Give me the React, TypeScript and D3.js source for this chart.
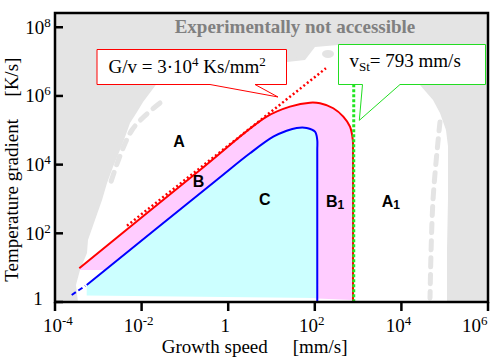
import React, { useEffect, useRef } from 'react';
import * as d3 from 'd3';

const W = 493;
const H = 361;
const SERIF = "'Liberation Serif', 'Times New Roman', serif";
const SANS = "'Liberation Sans', Arial, sans-serif";

// axes
const xDomain: [number, number] = [1e-4, 1e6];
const yDomain: [number, number] = [1, 2.6e8];
const xTicks = [1e-4, 1e-2, 1, 1e2, 1e4, 1e6];
const yTicks = [1, 1e2, 1e4, 1e6, 1e8];
const xTickExp = ['-4', '-2', '', '2', '4', '6'];
const yTickExp = ['', '2', '4', '6', '8'];

// curves [growth speed mm/s, temperature gradient K/s]
const redCurve: [number, number][] = [
  [3.64e-4, 9.6], [0.2234, 6980], [7.74, 2.49e5], [26.7, 4.87e5], [77.4, 6.37e5],
  [132, 6.11e5], [267, 4.38e5], [455, 2.49e5], [650, 1.27e5], [755, 5.2e4],
  [762, 2.67e4], [762, 1],
];
const blueCurve: [number, number][] = [
  [5.4e-4, 3.13], [0.542, 3570], [3.18, 2.14e4], [11.0, 6.51e4], [22.4, 9.73e4],
  [38.2, 1.17e5], [65.0, 1.17e5], [101, 9.1e4], [114, 5.2e4], [114, 2.67e4], [114, 1],
];
const blueStartDashed: [number, number][] = [[2.43e-4, 1.6], [5.0e-4, 2.95]];
const redDotted: [number, number][] = [[4.6e-3, 166], [181, 6.4e6]];
const vSt = 793;
const greenTop = 2.2e6;
const pinkLowerEdge: [number, number][] = [[762, 1.14], [114, 1.26], [1.3e-3, 8.55], [3.78e-4, 8.55]];
const cyanLowerEdge: [number, number][] = [[114, 1.31], [5.4e-4, 1.55]];

// experimentally accessible (white) region
const accessibleRegion: [number, number][] = [
  [3.4e-4, 1], [3.05e-4, 3.13], [3.78e-4, 8.55], [5.48e-4, 26.7], [5.78e-4, 63.9],
  [8.39e-4, 244], [1.22e-3, 933], [1.59e-3, 2920], [2.18e-3, 8530], [3.17e-3, 2.67e4],
  [4.14e-3, 6.38e4], [5.4e-3, 1.63e5], [7.83e-3, 3.41e5], [1.08e-2, 6.67e5],
  [1.74e-2, 1.49e6], [2.39e-2, 2.55e6], [4.53e-2, 1e7], [22.8, 9.75e6], [59.4, 1.11e7],
  [101, 2.67e7], [344, 3.05e7], [2.69e4, 3.05e7], [2.69e4, 2.08e6], [5.37e4, 7.62e5],
  [7.78e4, 3.19e5], [1.07e5, 1.02e5], [1.19e5, 3.49e4], [1.19e5, 933], [1.13e5, 32.7],
  [1.13e5, 1],
];
const grayDashesLeft: [number, number][] = [[2.66e-2, 6.24e5], [6.0e-3, 1.02e5], [1.86e-3, 2550]];
const grayDashesRight: [number, number][] = [[7.78e4, 1.75e5], [5.37e4, 933], [4.58e4, 1.31]];
const grayBlobs: [number, number][] = [[45.5, 1.67e7], [202, 1.67e7]];

const regionLabels = [
  { name: 'A', sub: '', v: 0.054, G: 3.3e4 },
  { name: 'B', sub: '', v: 0.151, G: 2188 },
  { name: 'C', sub: '', v: 5.14, G: 668 },
  { name: 'B', sub: '1', v: 181.5, G: 565 },
  { name: 'A', sub: '1', v: 3508, G: 565 },
];
const redCalloutTip: [number, number] = [14.1, 9.33e5];
const greenCalloutTip: [number, number] = [1067, 1.95e5];

export default function App() {
  const ref = useRef<SVGSVGElement>(null);

  useEffect(() => {
    const svg = d3.select(ref.current);
    svg.selectAll('*').remove();
    const L = 55, R = 488, T = 13, B = 302;
    const x = d3.scaleLog().domain(xDomain).range([L, R]);
    const y = d3.scaleLog().domain(yDomain).range([B, T]);
    const P = (d: [number, number]): [number, number] => [x(d[0]), y(d[1])];

    svg.append('defs').append('clipPath').attr('id', 'plotclip')
      .append('rect').attr('x', L).attr('y', T).attr('width', R - L).attr('height', B - T);

    const g = svg.append('g').attr('clip-path', 'url(#plotclip)');
    g.append('rect').attr('x', L).attr('y', T).attr('width', R - L).attr('height', B - T).attr('fill', '#e4e4e4');

    const lin = d3.line<[number, number]>().x((d) => x(d[0])).y((d) => y(d[1]));
    g.append('path').attr('d', lin(accessibleRegion) + 'Z').attr('fill', '#ffffff');

    const smooth = d3.line<[number, number]>().x((d) => x(d[0])).y((d) => y(d[1])).curve(d3.curveCatmullRom.alpha(0.5));
    [grayDashesLeft, grayDashesRight].forEach((pts) => {
      g.append('path').attr('d', smooth(pts)).attr('fill', 'none').attr('stroke', '#e4e4e4')
        .attr('stroke-width', 5).attr('stroke-dasharray', '9 8').attr('stroke-linecap', 'round');
    });
    grayBlobs.forEach((b) => {
      g.append('ellipse').attr('cx', x(b[0])).attr('cy', y(b[1])).attr('rx', 6).attr('ry', 4).attr('fill', '#e4e4e4');
    });

    const edge = (pts: [number, number][]) => pts.map((p) => 'L' + P(p).join(',')).join('');
    g.append('path').attr('d', smooth(redCurve) + edge(pinkLowerEdge) + 'Z').attr('fill', '#ffccff');
    g.append('path').attr('d', smooth(blueCurve) + edge(cyanLowerEdge) + 'Z').attr('fill', '#ccffff');

    g.append('path').attr('d', smooth(redCurve)).attr('fill', 'none').attr('stroke', '#ff0000').attr('stroke-width', 2);
    g.append('path').attr('d', smooth(blueCurve)).attr('fill', 'none').attr('stroke', '#0000ff').attr('stroke-width', 2);
    g.append('path').attr('d', lin(blueStartDashed)).attr('fill', 'none').attr('stroke', '#0000ff').attr('stroke-width', 2).attr('stroke-dasharray', '5 3');
    g.append('path').attr('d', lin(redDotted)).attr('fill', 'none').attr('stroke', '#ff0000').attr('stroke-width', 2.5).attr('stroke-dasharray', '2 2.5');
    g.append('line').attr('x1', x(vSt)).attr('x2', x(vSt)).attr('y1', y(greenTop)).attr('y2', y(1))
      .attr('stroke', '#22e622').attr('stroke-width', 3).attr('stroke-dasharray', '3 2');

    // callouts
    const rt = P(redCalloutTip);
    svg.append('path')
      .attr('d', `M97,49.5H286.5V84.5H255L${rt[0]},${rt[1]}L210,84.5H97Z`)
      .attr('fill', '#fff').attr('stroke', '#ff0000').attr('stroke-width', 1);
    const gt = P(greenCalloutTip);
    svg.append('path')
      .attr('d', `M338.5,44.5H485.5V84.5H400L${gt[0]},${gt[1]}L362.5,84.5H338.5Z`)
      .attr('fill', '#fff').attr('stroke', '#22dd22').attr('stroke-width', 1);

    const t1 = svg.append('text').attr('x', 108.5).attr('y', 72.5).attr('font-family', SERIF).attr('font-size', 19).attr('fill', '#000');
    t1.append('tspan').text('G/v = 3\u00b710');
    t1.append('tspan').attr('font-size', 13).attr('dy', -7).text('4');
    t1.append('tspan').attr('dy', 7).text(' Ks/mm');
    t1.append('tspan').attr('font-size', 13).attr('dy', -7).text('2');

    const t2 = svg.append('text').attr('x', 349.5).attr('y', 66.5).attr('font-family', SERIF).attr('font-size', 19).attr('fill', '#000');
    t2.append('tspan').text('v');
    t2.append('tspan').attr('font-size', 13).attr('dy', 4).text('St');
    t2.append('tspan').attr('dy', -4).text('= 793 mm/s');

    svg.append('text').attr('x', 295).attr('y', 33).attr('text-anchor', 'middle')
      .attr('font-family', SERIF).attr('font-weight', 'bold').attr('font-size', 19).attr('fill', '#808080')
      .text('Experimentally not accessible');

    regionLabels.forEach((l) => {
      const t = svg.append('text').attr('x', x(l.v)).attr('y', y(l.G)).attr('font-family', SANS)
        .attr('font-weight', 'bold').attr('font-size', 16).attr('fill', '#000');
      t.append('tspan').text(l.name);
      if (l.sub) t.append('tspan').attr('font-size', 12).attr('dy', 2).text(l.sub);
    });

    // frame and ticks
    svg.append('rect').attr('x', L).attr('y', T).attr('width', R - L).attr('height', B - T)
      .attr('fill', 'none').attr('stroke', '#000').attr('stroke-width', 2.5);
    yTicks.forEach((v, i) => {
      const yy = y(v);
      svg.append('line').attr('x1', L).attr('x2', L + 8).attr('y1', yy).attr('y2', yy).attr('stroke', '#000').attr('stroke-width', 2.5);
      const t = svg.append('text').attr('x', 38).attr('y', Math.min(yy + 6.5, 305)).attr('text-anchor', 'middle')
        .attr('font-family', SERIF).attr('font-size', 19).attr('fill', '#000');
      if (yTickExp[i]) {
        t.append('tspan').text('10');
        t.append('tspan').attr('font-size', 13).attr('dy', -7).text(yTickExp[i]);
      } else t.append('tspan').text('1');
    });
    xTicks.forEach((v, i) => {
      const xx = x(v);
      svg.append('line').attr('x1', xx).attr('x2', xx).attr('y1', B).attr('y2', B + 9).attr('stroke', '#000').attr('stroke-width', 2.5);
      const t = svg.append('text').attr('x', xx - 3).attr('y', 331.5).attr('text-anchor', 'middle')
        .attr('font-family', SERIF).attr('font-size', 19).attr('fill', '#000');
      if (xTickExp[i]) {
        t.append('tspan').text('10');
        t.append('tspan').attr('font-size', 13).attr('dy', -7).text(xTickExp[i]);
      } else t.append('tspan').text('1');
      const node = t.node() as SVGTextElement;
      const bb = node.getBBox();
      let shift = 0;
      if (bb.x < 43) shift = 43 - bb.x;
      if (bb.x + bb.width > 488) shift = 488 - (bb.x + bb.width);
      if (shift) t.attr('x', xx - 3 + shift);
    });

    // axis titles
    svg.append('text').attr('x', 161.7).attr('y', 353).attr('font-family', SERIF).attr('font-size', 19).text('Growth speed');
    svg.append('text').attr('x', 292.7).attr('y', 353).attr('font-family', SERIF).attr('font-size', 19).text('[mm/s]');
    svg.append('text').attr('transform', 'translate(18,281.7) rotate(-90)').attr('font-family', SERIF).attr('font-size', 19).text('Temperature gradient');
    svg.append('text').attr('transform', 'translate(18,96.7) rotate(-90)').attr('font-family', SERIF).attr('font-size', 19).text('[K/s]');
  }, []);

  return (
    <svg ref={ref} width={W} height={H} style={{ position: 'absolute', left: 0, top: 0, background: '#fff' }} />
  );
}
